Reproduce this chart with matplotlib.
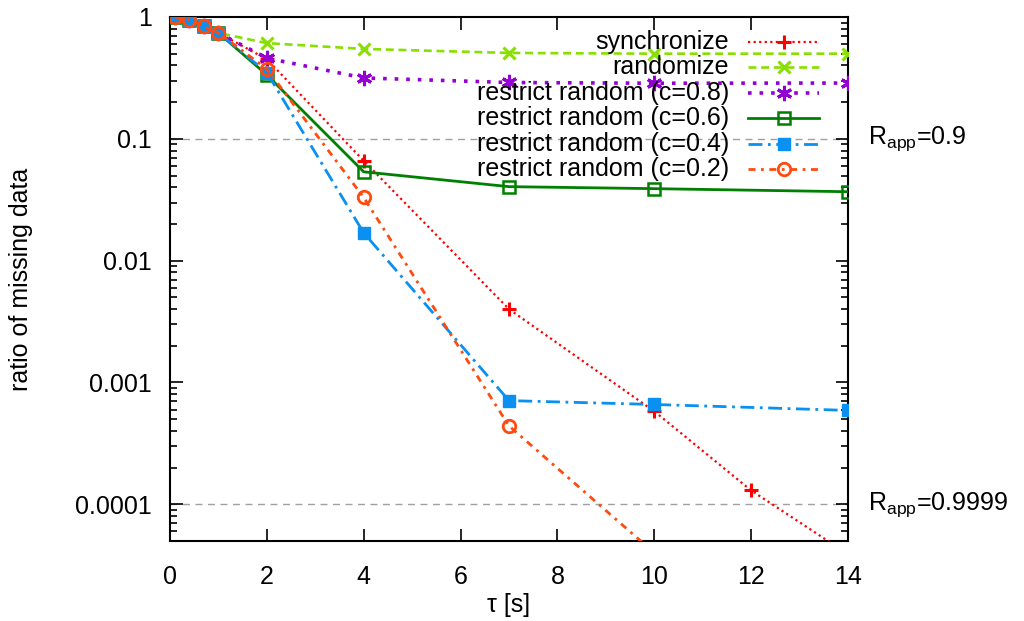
import matplotlib
matplotlib.use("Agg")
import matplotlib.pyplot as plt
from matplotlib.lines import Line2D
from matplotlib.ticker import LogLocator, FixedLocator, NullFormatter
import matplotlib.transforms as mtransforms

plt.rcParams['font.family'] = ['Liberation Sans', 'DejaVu Sans']
plt.rcParams['mathtext.fontset'] = 'custom'
plt.rcParams['mathtext.rm'] = 'Liberation Sans'
plt.rcParams['mathtext.it'] = 'Liberation Sans:italic'

# ---- data ----
tau = [0.1, 0.4, 0.7, 1.0, 2, 4, 7, 10, 14]
tau_sync = [0.1, 0.4, 0.7, 1.0, 2, 4, 7, 10, 12, 14]
tau_c02 = [0.1, 0.4, 0.7, 1.0, 2, 4, 7, 10]

synchronize = [1.0, 0.95, 0.84, 0.74, 0.45, 0.066, 0.0040, 0.00058, 0.00013, 3.9e-5]
randomize = [1.0, 0.95, 0.84, 0.74, 0.61, 0.547, 0.507, 0.50, 0.50]
restrict_08 = [1.0, 0.95, 0.84, 0.74, 0.46, 0.316, 0.290, 0.286, 0.287]
restrict_06 = [1.0, 0.95, 0.84, 0.74, 0.335, 0.0536, 0.0405, 0.039, 0.0368]
restrict_04 = [1.0, 0.95, 0.84, 0.74, 0.35, 0.0169, 0.00071, 0.00066, 0.00059]
restrict_02 = [1.0, 0.95, 0.84, 0.74, 0.375, 0.0330, 0.00044, 4.0e-5]

labels = ["synchronize", "randomize", "restrict random (c=0.8)",
          "restrict random (c=0.6)", "restrict random (c=0.4)",
          "restrict random (c=0.2)"]
xticks = [0, 2, 4, 6, 8, 10, 12, 14]
yticks = [1, 0.1, 0.01, 0.001, 0.0001]
ytick_labels = ["1", "0.1", "0.01", "0.001", "0.0001"]
rapp_levels = [0.1, 0.0001]
rapp_labels = [r"R$_{\mathrm{app}}$=0.9", r"R$_{\mathrm{app}}$=0.9999"]

FS = 18

fig = plt.figure(figsize=(10.24, 6.21), dpi=100)
ax = fig.add_axes([170/1024, 1-541/621, 678/1024, 524/621])
ax.set_yscale('log')
ax.set_xlim(0, 14)
ax.set_ylim(5e-5, 1)

# reference lines
for lev in rapp_levels:
    ax.axhline(lev, color='#a0a0a0', lw=1.0, ls=(0, (5, 4)), zorder=1)

styles = [
    dict(color='#ff0000', ls=(0, (1, 1.5)), lw=1.6, marker='+', ms=10, mew=2.2, mfc='none'),
    dict(color='#88e000', ls=(0, (3, 1.8)), lw=1.9, marker='x', ms=9, mew=2.2, mfc='none'),
    dict(color='#9400d3', ls=(0, (1, 2.2)), lw=2.6, marker=(6, 2, 0), ms=11, mew=2.2, mfc='none'),
    dict(color='#008000', ls='-', lw=2.0, marker='s', ms=9, mew=1.8, mfc='none'),
    dict(color='#0a90f0', ls=(0, (5, 2, 1, 2)), lw=2.0, marker='s', ms=9, mew=1.0, mfc='#0a90f0'),
    dict(color='#ff4a10', ls=(0, (2.5, 2, 1, 2)), lw=2.0, marker='o', ms=9, mew=2.0, mfc='none'),
]
series = [(tau_sync, synchronize), (tau, randomize), (tau, restrict_08),
          (tau, restrict_06), (tau, restrict_04), (tau_c02, restrict_02)]

for (xs, ys), st in zip(series, styles):
    ax.plot(xs, ys, clip_on=True, zorder=3, **st)

# manual legend (right-aligned text, sample on the right)
row_y = [42, 67, 93, 118, 144, 169]
for ry, lab, st in zip(row_y, labels, styles):
    fy = 1 - (ry - 17) / 524
    ax.text((729 - 170) / 678, fy, lab, transform=ax.transAxes, ha='right',
            va='center', fontsize=FS)
    ln = Line2D([(748 - 170) / 678, (819 - 170) / 678], [fy, fy],
                transform=ax.transAxes, **{k: v for k, v in st.items() if k not in ('marker', 'ms', 'mew', 'mfc')})
    ax.add_line(ln)
    mk = Line2D([(784 - 170) / 678], [fy], transform=ax.transAxes, ls='none',
                color=st['color'], marker=st['marker'], ms=st['ms'], mew=st['mew'], mfc=st['mfc'])
    ax.add_line(mk)

# R_app annotations
trans = mtransforms.blended_transform_factory(ax.transAxes, ax.transData)
for lev, lab in zip(rapp_levels, rapp_labels):
    ax.text((868 - 170) / 678, lev, lab, transform=trans, ha='left', va='center',
            fontsize=FS, clip_on=False)

ax.xaxis.set_major_locator(FixedLocator(xticks))
ax.set_xticklabels([str(t) for t in xticks])
ax.yaxis.set_major_locator(FixedLocator(yticks))
ax.set_yticklabels(ytick_labels)
ax.yaxis.set_minor_locator(LogLocator(base=10, subs=range(2, 10)))
ax.yaxis.set_minor_formatter(NullFormatter())

ax.tick_params(which='both', direction='in', top=True, right=True, labelsize=FS,
               width=1.2, colors='black')
ax.tick_params(which='major', length=9)
ax.tick_params(which='minor', length=5)
ax.tick_params(axis='x', which='major', pad=17)
ax.tick_params(axis='y', which='major', pad=13)
for sp in ax.spines.values():
    sp.set_linewidth(1.5)

ax.set_xlabel("τ [s]", fontsize=FS)
ax.set_ylabel("ratio of missing data", fontsize=FS)
ax.xaxis.set_label_coords(0.5, -0.10)
ax.yaxis.set_label_coords(-0.202, 0.5)

fig.savefig("out.png", dpi=100)
